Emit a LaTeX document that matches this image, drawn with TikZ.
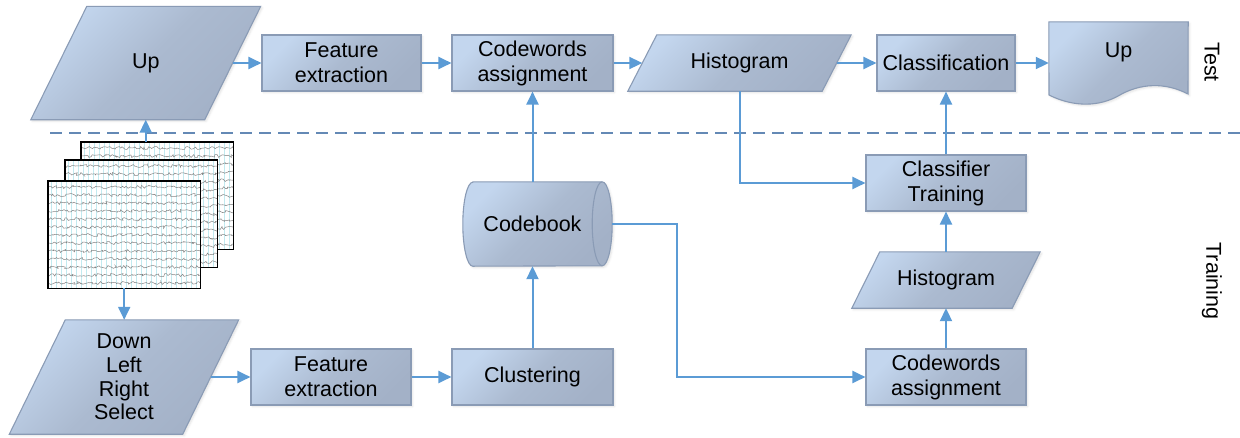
\documentclass[tikz,border=0pt]{standalone}
\usepackage{fontspec}
\setmainfont{Liberation Sans}
\usetikzlibrary{arrows.meta,calc,decorations.pathmorphing,shadows.blur}
\definecolor{fillA}{HTML}{C3D6EE}
\definecolor{fillM}{HTML}{ABBAD0}
\definecolor{fillB}{HTML}{A3B1C7}
\definecolor{edgec}{HTML}{8A9BB5}
\definecolor{arrc}{HTML}{5B9BD5}
\definecolor{dashc}{HTML}{6489B5}
\definecolor{gridc}{HTML}{C2EAF0}
\definecolor{tracec}{HTML}{858585}
\tikzset{
  shapefill/.style={draw=edgec, line width=1.1pt, top color=fillA, bottom color=fillB, middle color=fillM, shading angle=45},
  softshadow/.style={blur shadow={shadow xshift=1.5pt, shadow yshift=-1.5pt, shadow opacity=12, shadow blur steps=4}},
  lbl/.style={inner sep=0pt, align=center, font=\fontsize{21.5}{25}\selectfont, text=black},
  box/.style={shapefill, softshadow, rectangle, minimum width=#1, minimum height=56, lbl},
  para/.style={rectangle, draw=none, lbl},
  eegframe/.style={rectangle, draw=none, inner sep=0pt, minimum width=152, minimum height=107, anchor=north west},
  arr/.style={draw=arrc, line width=2pt, -{Triangle[length=13pt,width=12pt]}},
}
\newcommand\mkpara[2]{%
  \path[shapefill, softshadow] ($(#1.north west)+(#2/2,0)$) -- ($(#1.north east)+(#2/2,0)$) -- ($(#1.south east)-(#2/2,0)$) -- ($(#1.south west)-(#2/2,0)$) -- cycle;}
\newcommand\eegpanel[1]{%
  \fill[white] (#1.north west) rectangle (#1.south east);
  \begin{scope}
    \clip (#1.north west) rectangle (#1.south east);
    \foreach \k in {0,...,30}
      \draw[gridc, line width=0.6pt] ($(#1.north west)+(3+5*\k,0)$) -- ($(#1.south west)+(3+5*\k,0)$);
    \foreach \r in {0,...,12}
      \draw[tracec, line width=0.5pt, decorate, decoration={random steps, segment length=1.8pt, amplitude=1.5pt}] ($(#1.north west)+(0,6+8*\r)$) -- ($(#1.north east)+(0,6+8*\r)$);
  \end{scope}
  \draw[black, line width=1.6pt] (#1.north west) rectangle (#1.south east);
}
\begin{document}
\begin{tikzpicture}[x=1pt,y=-1pt]
\pgfmathsetseed{7}
\useasboundingbox (0,0) rectangle (1240,437);
% separator
\coordinate (dl) at (50,133);
\coordinate (dr) at (1240,133);
\draw[dashc, line width=1.5pt, dash pattern=on 12pt off 7pt] (dl) -- (dr);

% rectangular boxes
\node[box=159] (fe1) at (341.5,63) {Feature\\extraction};
\node[box=161] (cw1) at (532.5,63) {Codewords\\assignment};
\node[box=138] (cls) at (946,63) {Classification};
\node[box=160] (fe2) at (331,377) {Feature\\extraction};
\node[box=161] (clu) at (532.5,377) {Clustering};
\node[box=160] (cw2) at (946,377) {Codewords\\assignment};
\node[box=160] (ct) at (946,183) {Classifier\\Training};

% frames of the other shapes (drawn directly), text nodes on top
\node[para, minimum width=173.5, minimum height=113] (upin) at (145.75,63) {};
\node[para, minimum width=194, minimum height=56] (hist1) at (739.5,63) {};
\node[rectangle, draw=none, inner sep=0pt, minimum width=139, minimum height=82] (upout) at (1118.5,63) {};
\node[para, minimum width=173, minimum height=114] (down) at (124,377) {};
\node[para, minimum width=160, minimum height=56] (hist2) at (946,280) {};
\node[rectangle, draw=none, inner sep=0pt, minimum width=139, minimum height=84] (cb) at (532.5,224) {};

\mkpara{upin}{56}
\mkpara{hist1}{29}
\mkpara{down}{56}
\mkpara{hist2}{28}
\path[shapefill, softshadow] (upout.north west) -- (upout.north east) -- (1188,94)
  .. controls (1165,82) and (1140,83) .. (1118,96)
  .. controls (1100,106) and (1075,108) .. (1049,95) -- cycle;
\path[shapefill, softshadow] ($(cb.north west)+(10,0)$) -- (cb.north east)
  arc[start angle=90, end angle=-90, x radius=10pt, y radius=42pt]
  -- ($(cb.south west)+(10,0)$)
  arc[start angle=-90, end angle=-270, x radius=10pt, y radius=42pt] -- cycle;
\draw[edgec, line width=1.1pt] (cb.north east) arc[start angle=90, end angle=270, x radius=10pt, y radius=42pt];

\node[lbl] (upint) at (upin.center) {Up};
\node[lbl] (hist1t) at (hist1.center) {Histogram};
\node[lbl] (upoutt) at ($(upout.center)+(0,-11)$) {Up};
\node[lbl, font=\fontsize{21.5}{23.7}\selectfont] (downt) at (down.center) {Down\\Left\\Right\\Select};
\node[lbl] (hist2t) at (hist2.center) {Histogram};
\node[lbl] (cbt) at (cb.center) {Codebook};
\node[lbl, rotate=-90] (testl) at (1212,62) {Test};
\node[lbl, rotate=-90] (trainl) at (1212,281) {Training};

% EEG stack
\node[eegframe] (eegback) at (81,142) {};
\node[eegframe] (eegmid) at (65,160) {};
\node[eegframe] (eegfront) at (48,181) {};
\eegpanel{eegback}
\eegpanel{eegmid}
\eegpanel{eegfront}

\coordinate (cbturn) at (677,224);

% connectors
\draw[arr] (upin.east) -- (fe1.west);
\draw[arr] (fe1.east) -- (cw1.west);
\draw[arr] (cw1.east) -- (hist1.west);
\draw[arr] (hist1.east) -- (cls.west);
\draw[arr] (cls.east) -- (upout.west);
\draw[arr] (upin.south |- eegback.north) -- (upin.south);
\draw[arr] (eegfront.south) -- (eegfront.south |- down.north);
\draw[arr] (down.east) -- (fe2.west);
\draw[arr] (fe2.east) -- (clu.west);
\draw[arr] (clu.north) -- (cb.south);
\draw[arr] (cb.north) -- (cw1.south);
\draw[arr] ($(cb.east)+(10,0)$) -- (cbturn) |- (cw2.west);
\draw[arr] (cw2.north) -- (hist2.south);
\draw[arr] (hist2.north) -- (ct.south);
\draw[arr] (ct.north) -- (cls.south);
\draw[arr] (hist1.south) |- (ct.west);
\end{tikzpicture}
\end{document}
